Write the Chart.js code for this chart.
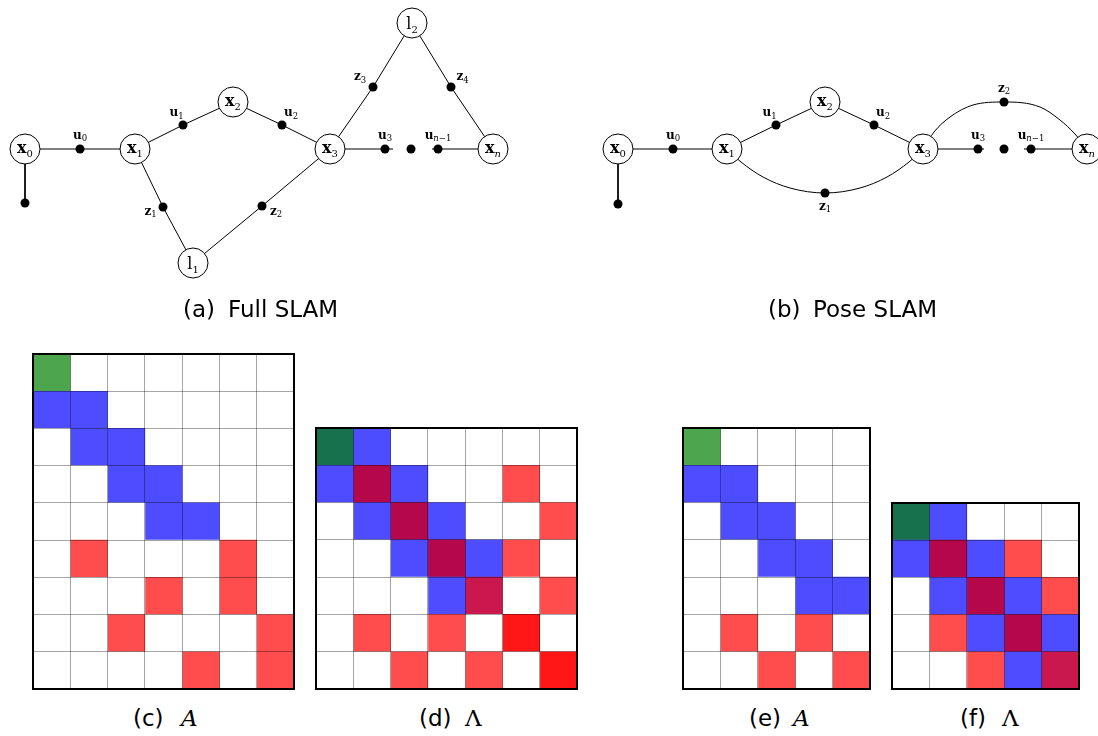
<!DOCTYPE html>
<html>
<head>
<meta charset="utf-8">
<script src="https://cdn.jsdelivr.net/npm/chart.js@4.4.1/dist/chart.umd.min.js"></script>
<style>
  html, body { margin: 0; padding: 0; background: #fff; }
  #page { position: relative; width: 1098px; height: 736px; overflow: hidden; }
  .box { position: absolute; }
  .cap { position: absolute; font-family: 'DejaVu Sans', sans-serif; font-size: 23px; line-height: 23px; color: #000; white-space: nowrap; }
  .sym { position: absolute; font-family: 'DejaVu Serif', serif; font-size: 23px; line-height: 23px; color: #000; white-space: nowrap; }
</style>
</head>
<body>
<div id="page">
  <!-- the scatter chart pads its area by the circle radius + border (16px), so the box is grown by that much -->
  <div class="box" style="left:-16px;top:-16px;width:1130px;height:322px"><canvas id="graphs"></canvas></div>
  <div class="box" style="left:31px;top:352px;width:265px;height:339px"><canvas id="mat-c"></canvas></div>
  <div class="box" style="left:314px;top:426px;width:265px;height:265px"><canvas id="mat-d"></canvas></div>
  <div class="box" style="left:681px;top:426px;width:191px;height:265px"><canvas id="mat-e"></canvas></div>
  <div class="box" style="left:890px;top:501px;width:191px;height:190px"><canvas id="mat-f"></canvas></div>

  <div class="cap" style="left:183px;top:298px">(a)</div>
  <div class="cap" style="left:228px;top:298px">Full SLAM</div>
  <div class="cap" style="left:768px;top:298px">(b)</div>
  <div class="cap" style="left:813px;top:298px">Pose SLAM</div>

  <div class="cap" style="left:133px;top:707px">(c)</div>
  <div class="sym" style="left:181px;top:707px"><i>A</i></div>
  <div class="cap" style="left:419px;top:707px">(d)</div>
  <div class="sym" style="left:465px;top:707px">Λ</div>
  <div class="cap" style="left:749px;top:707px">(e)</div>
  <div class="sym" style="left:793px;top:707px"><i>A</i></div>
  <div class="cap" style="left:960px;top:707px">(f)</div>
  <div class="sym" style="left:1002px;top:707px">Λ</div>
</div>
<script>
// graph (a): full SLAM, poses x, landmarks l, factor dots u / z
const fullNames = ['x0', 'x1', 'x2', 'x3', 'xn', 'l1', 'l2', 'u0', 'u1', 'u2', 'u3', 'un', 'z1', 'z2', 'z3', 'z4', 'dots', 'prior', 'stub3', 'stubn'];
const fullX = [25, 135, 233, 330, 493, 193, 412, 80, 183, 282, 385, 438, 163, 262, 373, 451, 411, 25, 393, 432];
const fullY = [149, 149, 102, 149, 149, 263, 23, 149, 125, 125, 149, 149, 207, 206, 87, 87, 149, 203, 149, 149];
const fullLabels = ['x_0', 'x_1', 'x_2', 'x_3', 'x_n', 'l_1', 'l_2', 'u_0', 'u_1', 'u_2', 'u_3', 'u_n-1', 'z_1', 'z_2', 'z_3', 'z_4', '', '', '', ''];
const fullLabelSide = ['', '', '', '', '', '', '', 'n', 'nw', 'ne', 'n', 'n', 'sw', 'se', 'nw2', 'ne2', '', '', '', ''];
const fullEdges = [
    ['x0', 'u0', 'x1'], ['x1', 'u1', 'x2', 'u2', 'x3'], ['x1', 'z1', 'l1', 'z2', 'x3'],
    ['x3', 'z3', 'l2', 'z4', 'xn'], ['x3', 'stub3'], ['stubn', 'xn'], ['x0', 'prior']
];

// graph (b): pose SLAM
const poseNames = ['x0', 'x1', 'x2', 'x3', 'xn', 'u0', 'u1', 'u2', 'u3', 'un', 'z1', 'z2', 'dots', 'prior', 'stub3', 'stubn'];
const poseX = [618, 727, 825, 923, 1087, 673, 776, 874, 978, 1031, 825, 1004, 1004, 618, 984, 1024];
const poseY = [149, 149, 102, 149, 149, 149, 125, 125, 149, 149, 193, 102, 149, 204, 149, 149];
const poseLabels = ['x_0', 'x_1', 'x_2', 'x_3', 'x_n', 'u_0', 'u_1', 'u_2', 'u_3', 'u_n-1', 'z_1', 'z_2', '', '', '', ''];
const poseLabelSide = ['', '', '', '', '', 'n', 'nw', 'ne', 'n', 'n', 's', 'n', '', '', '', ''];
const poseEdges = [['x0', 'u0', 'x1'], ['x1', 'u1', 'x2', 'u2', 'x3'], ['x3', 'stub3'], ['stubn', 'xn'], ['x0', 'prior']];
// loop closure arcs
const poseArc1X = [727, 741, 763, 790, 825, 860, 887, 909, 923];
const poseArc1Y = [149, 162, 177, 188, 193, 188, 177, 162, 149];
const poseArc2X = [923, 934, 950, 973, 1004, 1040, 1060, 1075, 1087];
const poseArc2Y = [149, 132, 117, 105, 102, 107, 120, 134, 149];

// sparsity patterns, one string per row
const matrixC = ['g......', 'bb.....', '.bb....', '..bb...', '...bb..', '.r...r.', '...r.r.', '..r...r', '....r.r'];
const matrixD = ['db.....', 'bmb..r.', '.bmb..r', '..bmbr.', '...bp.r', '.r.r.q.', '..r.r.q'];
const matrixE = ['g....', 'bb...', '.bb..', '..bb.', '...bb', '.r.r.', '..r.r'];
const matrixF = ['db...', 'bmbr.', '.bmbr', '.rbmb', '..rbp'];

const cellColors = { '.': '#ffffff', g: '#4da64d', b: '#4d4dff', r: '#ff4d4d', d: '#17714d', m: '#b5084a', p: '#ca174d', q: '#ff1717' };
const sideOffset = { n: [0, -13.5], s: [0, 13.5], nw: [-6.5, -12], ne: [9, -12], sw: [-12.5, 4.5], se: [14, 5.5], nw2: [-13, -10], ne2: [11.5, -10] };

function drawLabel(ctx, px, py, label, small) {
    const [main, sub] = label.split('_');
    const mainFont = small ? 'bold 12px "DejaVu Serif"' : (main === 'l' ? '16px "DejaVu Serif"' : 'bold 16px "DejaVu Serif"');
    const subSize = small ? 8.5 : 10;
    const parts = sub.replace('-', '\u2212').split('').map(ch => ({
        t: ch,
        font: (/[a-z]/.test(ch) ? 'italic ' : '') + subSize + 'px "DejaVu Serif"'
    }));
    ctx.font = mainFont;
    const wm = ctx.measureText(main).width;
    let ws = 0;
    parts.forEach(p => { ctx.font = p.font; p.w = ctx.measureText(p.t).width; ws += p.w; });
    let x = px - (wm + ws) / 2;
    const base = py + (small ? 3.2 : (main === 'l' ? 6 : 4.2));
    ctx.font = mainFont;
    ctx.fillText(main, x, base);
    x += wm;
    parts.forEach(p => { ctx.font = p.font; ctx.fillText(p.t, x, base + (small ? 2.5 : 3.5)); x += p.w; });
}

function buildGraph(names, xs, ys, labels, sides, edges) {
    const pos = {};
    names.forEach((n, i) => { pos[n] = { x: xs[i], y: ys[i] }; });
    const circles = [], dots = [], texts = [];
    names.forEach((n, i) => {
        if (n[0] === 'x' || n[0] === 'l') circles.push(pos[n]);
        else if (!n.startsWith('stub')) dots.push(pos[n]);
        if (labels[i]) texts.push({ x: xs[i], y: ys[i], label: labels[i], side: sides[i] });
    });
    const lines = edges.map(path => path.map(n => pos[n]));
    return { circles, dots, texts, lines };
}

const full = buildGraph(fullNames, fullX, fullY, fullLabels, fullLabelSide, fullEdges);
const pose = buildGraph(poseNames, poseX, poseY, poseLabels, poseLabelSide, poseEdges);
const arcs = [
    poseArc1X.map((x, i) => ({ x, y: poseArc1Y[i] })),
    poseArc2X.map((x, i) => ({ x, y: poseArc2Y[i] }))
];

const edgeStyle = { showLine: true, borderColor: '#000', borderWidth: 1, pointRadius: 0, order: 5, clip: false };
const graphDatasets = [
    { data: full.circles.concat(pose.circles), pointRadius: 15, pointBackgroundColor: '#fff', pointBorderColor: '#000', pointBorderWidth: 1, order: 0, clip: false },
    { data: full.dots.concat(pose.dots), pointRadius: 4.5, pointBackgroundColor: '#000', pointBorderColor: '#000', pointBorderWidth: 0, order: 1, clip: false }
];
full.lines.concat(pose.lines).forEach(l => graphDatasets.push(Object.assign({ data: l, tension: 0 }, edgeStyle)));
arcs.forEach(a => graphDatasets.push(Object.assign({ data: a, cubicInterpolationMode: 'monotone' }, edgeStyle)));

const labelPlugin = {
    id: 'nodeLabels',
    afterDatasetsDraw(chart) {
        const ctx = chart.ctx;
        const xs = chart.scales.x, ys = chart.scales.y;
        ctx.save();
        ctx.fillStyle = '#000';
        ctx.textAlign = 'left';
        ctx.textBaseline = 'alphabetic';
        full.texts.concat(pose.texts).forEach(t => {
            const off = t.side ? sideOffset[t.side] : [0, 0];
            drawLabel(ctx, xs.getPixelForValue(t.x) + off[0], ys.getPixelForValue(t.y) + off[1], t.label, !!t.side);
        });
        ctx.restore();
    }
};

new Chart(document.getElementById('graphs'), {
    type: 'scatter',
    data: { datasets: graphDatasets },
    options: {
        animation: false,
        responsive: true,
        maintainAspectRatio: false,
        layout: { padding: 0 },
        plugins: { legend: { display: false }, tooltip: { enabled: false } },
        scales: {
            x: { type: 'linear', min: 0, max: 1098, display: false },
            y: { type: 'linear', min: 0, max: 290, reverse: true, display: false }
        }
    },
    plugins: [labelPlugin]
});

const framePlugin = {
    id: 'frame',
    afterDraw(chart) {
        const a = chart.chartArea;
        const ctx = chart.ctx;
        ctx.save();
        ctx.strokeStyle = '#000';
        ctx.lineWidth = 2;
        ctx.strokeRect(a.left, a.top, a.right - a.left, a.bottom - a.top);
        ctx.restore();
    }
};

function matrixChart(id, rows) {
    const nCols = rows[0].length;
    const datasets = [];
    for (let j = 0; j < nCols; j++) {
        datasets.push({
            data: rows.map(() => 1),
            backgroundColor: rows.map(r => cellColors[r[j]]),
            borderWidth: 0,
            barPercentage: 1,
            categoryPercentage: 1
        });
    }
    const gridLines = { color: 'rgba(0,0,0,0.35)', lineWidth: 1, drawTicks: false, z: 1 };
    return new Chart(document.getElementById(id), {
        type: 'bar',
        data: { labels: rows.map((r, i) => String(i)), datasets },
        options: {
            indexAxis: 'y',
            animation: false,
            responsive: true,
            maintainAspectRatio: false,
            layout: { padding: 2 },
            plugins: { legend: { display: false }, tooltip: { enabled: false } },
            scales: {
                x: { stacked: true, min: 0, max: nCols, ticks: { display: false, stepSize: 1 }, grid: gridLines, border: { display: false } },
                y: { stacked: true, ticks: { display: false }, grid: Object.assign({ offset: true }, gridLines), border: { display: false } }
            }
        },
        plugins: [framePlugin]
    });
}

matrixChart('mat-c', matrixC);
matrixChart('mat-d', matrixD);
matrixChart('mat-e', matrixE);
matrixChart('mat-f', matrixF);
</script>
</body>
</html>
